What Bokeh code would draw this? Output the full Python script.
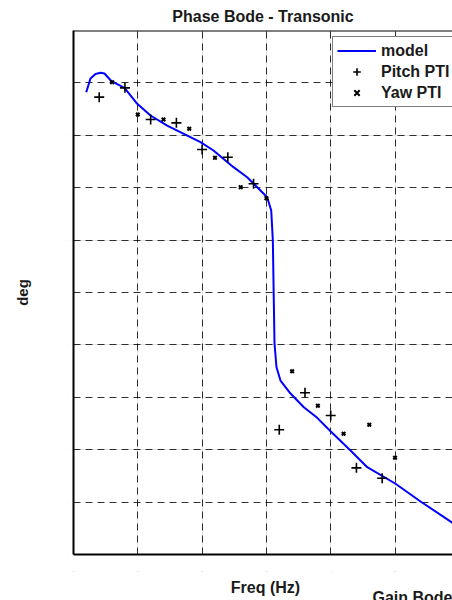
from bokeh.plotting import figure
from bokeh.models import FixedTicker, LinearAxis, Legend, LegendItem, Range1d, Grid, Span
from bokeh.embed import file_html
from bokeh.resources import INLINE

# Model curve (phase, deg) vs frequency (arbitrary linear units)
model_f = [0.198, 0.264, 0.342, 0.42, 0.482, 0.591, 0.793, 0.991, 1.198, 1.457, 1.715, 1.975,
           2.177, 2.488, 2.701, 2.857, 3.012, 3.075, 3.100, 3.115, 3.126, 3.157, 3.219, 3.375,
           3.582, 3.790, 3.997, 4.308, 4.568, 5.008, 5.397, 5.95]
model_ph = [-58.9, -45.8, -41.5, -40.4, -41.0, -48.4, -54.7, -69.9, -81.1, -90.7, -98.6, -106.6,
            -114.5, -130.4, -140.0, -149.5, -159.1, -171.8, -200.4, -257.6, -298.7, -321.3, -334.0, -346.4,
            -359.5, -369.6, -382.4, -400.8, -416.7, -432.5, -449.4, -472.0]

pitch_f = [0.4, 0.8, 1.2, 1.6, 2.0, 2.4, 2.8, 3.2, 3.6, 4.0, 4.4, 4.8]
pitch_ph = [-63.6, -54.7, -84.9, -88.1, -113.6, -120.9, -146.3, -381.0, -345.7, -367.4, -417.3, -427.2]

yaw_f = [0.6, 1.0, 1.4, 1.8, 2.2, 2.6, 3.0, 3.4, 3.8, 4.2, 4.6, 5.0]
yaw_ph = [-49.3, -80.2, -84.9, -93.8, -121.5, -149.5, -160.0, -325.1, -358.1, -384.8, -376.2, -407.7]

x_ticks = [0, 1, 2, 3, 4, 5, 6]
y_ticks = [-500, -450, -400, -350, -300, -250, -200, -150, -100, -50, 0]
x_tick_labels = [0, 1, 2, 3, 4, 5]

FONT = "Liberation Sans"

p = figure(width=452, height=600, frame_width=379, frame_height=524,
           output_backend="svg", toolbar_location=None,
           x_range=Range1d(0, 5.894), y_range=Range1d(-500, 0),
           x_axis_location=None, y_axis_location=None,
           min_border_left=73, min_border_right=0, min_border_top=30, min_border_bottom=46,
           title="Phase Bode - Transonic")
p.outline_line_color = None
p.background_fill_color = "white"
p.border_fill_color = "white"

p.title.align = "center"
p.title.vertical_align = "middle"
p.title.text_font = FONT
p.title.text_font_size = "16px"
p.title.text_font_style = "bold"
p.title.text_color = "#1a1a1a"

def base_axis(ticks):
    ax = LinearAxis(ticker=FixedTicker(ticks=ticks))
    ax.major_tick_line_color = None
    ax.minor_tick_line_color = None
    ax.major_tick_out = 0
    ax.major_tick_in = 0
    ax.axis_line_color = "black"
    ax.axis_line_width = 2
    return ax

# bottom axis: frame line + faint tiny tick labels
xb = base_axis(x_tick_labels)
xb.major_label_text_font_size = "2px"
xb.major_label_text_color = "#999999"
xb.major_label_standoff = 16
p.add_layout(xb, "below")

# second bottom row: x label and the cut-off title of the next panel
xl = base_axis([2.986, 5.88])
xl.axis_line_color = None
xl.major_label_overrides = {2.986: "Freq (Hz)", 5.88: "\nGain Bode"}
xl.major_label_text_font = FONT
xl.major_label_text_font_size = "16px"
xl.major_label_text_font_style = "bold"
xl.major_label_text_color = "#1a1a1a"
xl.major_label_text_line_height = 0.6
xl.major_label_standoff = 4
p.add_layout(xl, "below")

yl = base_axis(y_ticks)
yl.major_label_text_font_size = "2px"
yl.major_label_text_color = "#f4f4f4"
yl.major_label_standoff = 4
yl.axis_label = "deg"
yl.axis_label_text_font = FONT
yl.axis_label_text_font_size = "15px"
yl.axis_label_text_font_style = "bold"
yl.axis_label_text_color = "#1a1a1a"
yl.axis_label_standoff = 31
p.add_layout(yl, "left")

p.add_layout(Span(location=0, dimension="width", line_color="black", line_width=2))

gx = Grid(dimension=0, ticker=FixedTicker(ticks=x_ticks))
gy = Grid(dimension=1, ticker=FixedTicker(ticks=y_ticks))
for g in (gx, gy):
    g.grid_line_color = "black"
    g.grid_line_alpha = 0.8
    g.grid_line_dash = "7 5"
    g.grid_line_width = 1
    p.add_layout(g)

r_model = p.line(model_f, model_ph, line_color="#0000ff", line_width=2)
r_pitch = p.scatter(pitch_f, pitch_ph, marker="cross", size=10, line_color="black", line_width=1.6)
r_yaw = p.scatter(yaw_f, yaw_ph, marker="x", size=5, line_color="black", line_width=2)

legend = Legend(items=[LegendItem(label="model", renderers=[r_model]),
                       LegendItem(label="Pitch PTI", renderers=[r_pitch]),
                       LegendItem(label="Yaw PTI", renderers=[r_yaw])],
                location=(259, 447))
legend.label_text_font = FONT
legend.label_text_font_size = "16px"
legend.label_text_font_style = "bold"
legend.label_text_color = "#1a1a1a"
legend.glyph_width = 39
legend.glyph_height = 19
legend.label_height = 19
legend.label_standoff = 5
legend.padding = 4
legend.spacing = 2
legend.border_line_color = "black"
legend.border_line_width = 1
legend.margin = 0
legend.background_fill_color = "white"
legend.background_fill_alpha = 1
p.add_layout(legend)

open("out.html", "w").write(file_html(p, INLINE))
